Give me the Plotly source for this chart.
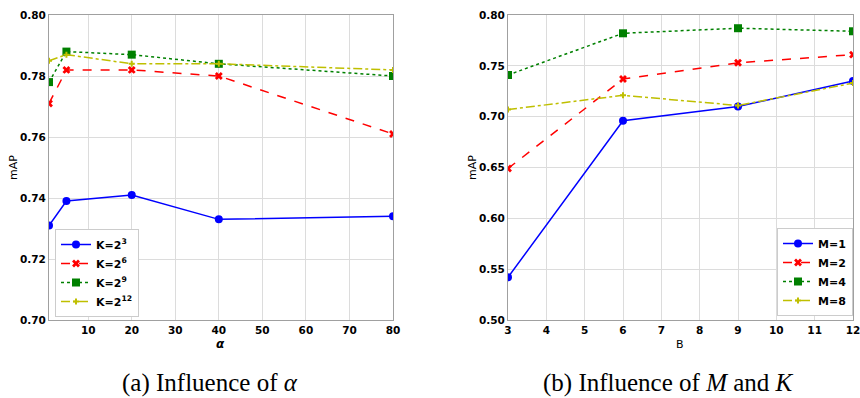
import plotly.graph_objects as go

# ---- data ----
alpha = [1, 5, 20, 40, 80]
k_names = ["K=2<sup>3</sup>", "K=2<sup>6</sup>", "K=2<sup>9</sup>", "K=2<sup>12</sup>"]
k3 = [0.731, 0.739, 0.741, 0.733, 0.734]
k6 = [0.771, 0.782, 0.782, 0.780, 0.761]
k9 = [0.778, 0.788, 0.787, 0.784, 0.780]
k12 = [0.785, 0.787, 0.784, 0.784, 0.782]

B = [3, 6, 9, 12]
m_names = ["M=1", "M=2", "M=4", "M=8"]
m1 = [0.542, 0.696, 0.710, 0.735]
m2 = [0.649, 0.737, 0.753, 0.761]
m4 = [0.741, 0.782, 0.787, 0.784]
m8 = [0.707, 0.721, 0.711, 0.733]

colors = ["#0000ff", "#ff0000", "#008000", "#bfbf00"]
dashes = ["solid", "dash", "dot", "dashdot"]
symbols = ["circle", "x", "square", "cross"]
msizes = [8, 7, 8, 5]

W, H = 860, 398


def px(x):
    return x / W


def py(y):
    return 1 - y / H


fig = go.Figure()

for i, (name, ys) in enumerate(zip(k_names, [k3, k6, k9, k12])):
    fig.add_trace(go.Scatter(
        x=alpha, y=ys, name="<b>" + name + "</b>", mode="lines+markers",
        line=dict(color=colors[i], dash=dashes[i], width=1.5),
        marker=dict(symbol=symbols[i], size=msizes[i], color=colors[i]),
        xaxis="x", yaxis="y", legend="legend"))

for i, (name, ys) in enumerate(zip(m_names, [m1, m2, m4, m8])):
    fig.add_trace(go.Scatter(
        x=B, y=ys, name="<b>" + name + "</b>", mode="lines+markers",
        line=dict(color=colors[i], dash=dashes[i], width=1.5),
        marker=dict(symbol=symbols[i], size=msizes[i], color=colors[i]),
        xaxis="x2", yaxis="y2", legend="legend2"))

tickfont = dict(family="DejaVu Sans", size=10.5, color="black", weight="bold")
axcommon = dict(showgrid=True, gridcolor="#dcdcdc", gridwidth=1, showline=True,
                linecolor="#a0a0a0", linewidth=1, mirror=True, ticks="",
                tickfont=tickfont, zeroline=False, automargin=False,
                ticklabeloverflow="allow")

fig.update_layout(
    width=W, height=H,
    margin=dict(l=0, r=0, t=0, b=0),
    paper_bgcolor="white", plot_bgcolor="white",
    showlegend=True,
    xaxis=dict(domain=[px(49), px(393)], range=[1, 80], tickmode="array",
               tickvals=[10, 20, 30, 40, 50, 60, 70, 80], anchor="y", **axcommon),
    yaxis=dict(domain=[py(320), py(15)], range=[0.70, 0.80], dtick=0.02,
               tick0=0.70, tickformat=".2f", anchor="x", **axcommon),
    xaxis2=dict(domain=[px(508), px(853)], range=[3, 12], dtick=1, tick0=3,
                anchor="y2", **axcommon),
    yaxis2=dict(domain=[py(320), py(15)], range=[0.50, 0.80], dtick=0.05,
                tick0=0.50, tickformat=".2f", anchor="x2", **axcommon),
    legend=dict(x=px(55), y=py(229), xanchor="left", yanchor="top",
                bordercolor="#cccccc", borderwidth=1, bgcolor="white",
                font=dict(family="DejaVu Sans", size=11, color="black"),
                tracegroupgap=0, itemwidth=30),
    legend2=dict(x=px(853), y=py(316), xanchor="right", yanchor="bottom",
                 bordercolor="#cccccc", borderwidth=1, bgcolor="white",
                 font=dict(family="DejaVu Sans", size=11, color="black"),
                 tracegroupgap=0, itemwidth=30),
)

annots = [
    dict(text="mAP", x=px(13), y=py(168), textangle=-90,
         font=dict(family="DejaVu Sans", size=11, color="black")),
    dict(text="<b><i>α</i></b>", x=px(221), y=py(344),
         font=dict(family="DejaVu Sans", size=12, color="black")),
    dict(text="mAP", x=px(472), y=py(168), textangle=-90,
         font=dict(family="DejaVu Sans", size=11, color="black")),
    dict(text="B", x=px(680), y=py(344),
         font=dict(family="DejaVu Sans", size=11, color="black")),
    dict(text="(a) Influence of <i>α</i>", x=px(210), y=py(383),
         font=dict(family="Liberation Serif", size=25, color="black")),
    dict(text="(b) Influence of <i>M</i> and <i>K</i>", x=px(668), y=py(383),
         font=dict(family="Liberation Serif", size=25, color="black")),
]
for a in annots:
    a.update(xref="paper", yref="paper", showarrow=False, xanchor="center", yanchor="middle")
fig.update_layout(annotations=annots)

fig.write_html("out.html",
               config={"displayModeBar": False},
               post_script="document.body.style.margin='0px';document.body.style.overflow='hidden';")
